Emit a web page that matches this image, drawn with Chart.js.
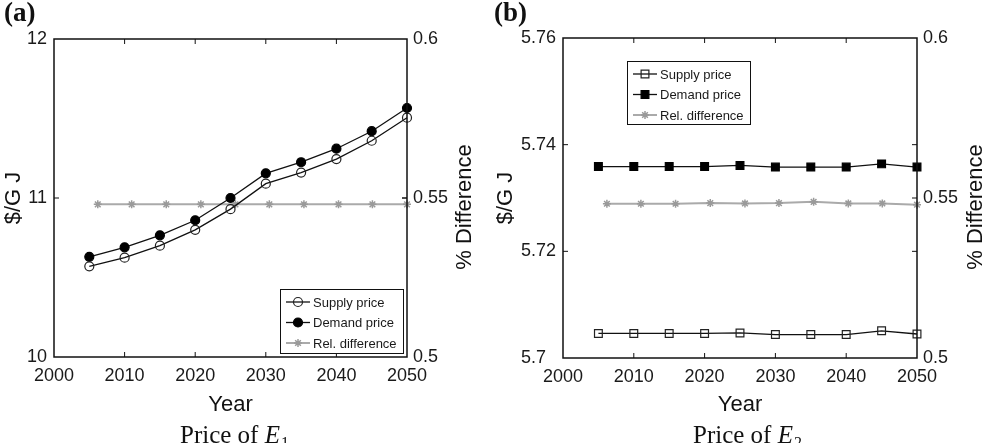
<!DOCTYPE html>
<html>
<head>
<meta charset="utf-8">
<script src="https://cdn.jsdelivr.net/npm/chart.js@4.4.1/dist/chart.umd.min.js"></script>
<style>
  body { margin: 0; background: #fff; }
  #wrap { position: relative; width: 985px; height: 443px; overflow: hidden; }
  canvas { position: absolute; top: 0; }
</style>
</head>
<body>
<div id="wrap">
  <canvas id="panelA" width="490" height="443" style="left:0"></canvas>
  <canvas id="panelB" width="495" height="443" style="left:490px"></canvas>
</div>
<script>
// years of the price series, and the (slightly shifted) x of the rel. difference stars
const years = [2005, 2010, 2015, 2020, 2025, 2030, 2035, 2040, 2045, 2050];
const relYears = [2006.2, 2011.0, 2015.9, 2020.8, 2025.7, 2030.5, 2035.4, 2040.3, 2045.1, 2050];

// panel (a) - price of E1
const supplyE1 = [10.57, 10.625, 10.70, 10.80, 10.93, 11.09, 11.16, 11.245, 11.36, 11.505];
const demandE1 = [10.63, 10.69, 10.765, 10.86, 11.0, 11.155, 11.225, 11.31, 11.42, 11.566];
const relDiffE1 = [0.548, 0.548, 0.548, 0.548, 0.548, 0.548, 0.548, 0.548, 0.548, 0.548];

// panel (b) - price of E2
const supplyE2 = [5.7046, 5.7046, 5.7046, 5.7046, 5.7047, 5.7044, 5.7044, 5.7044, 5.7051, 5.7045];
const demandE2 = [5.7359, 5.7359, 5.7359, 5.7359, 5.7361, 5.7358, 5.7358, 5.7358, 5.7364, 5.7358];
const relDiffE2 = [0.5482, 0.5482, 0.5482, 0.5484, 0.5483, 0.5484, 0.5488, 0.5483, 0.5483, 0.5479];

// tick labels
const yearTicks = [2000, 2010, 2020, 2030, 2040, 2050];
const priceTicksE1 = [10, 11, 12];
const priceTicksE2 = [5.70, 5.72, 5.74, 5.76];
const diffTicks = [0.5, 0.55, 0.6];

Chart.defaults.font.family = '"Liberation Sans", Arial, sans-serif';
Chart.defaults.color = '#1a1a1a';

const fmt = v => String(+v.toFixed(3));

// box round the axes + inward ticks, matlab style
const frameTicks = {
  id: 'frameTicks',
  afterDatasetsDraw(chart) {
    const { ctx, chartArea: a, scales } = chart;
    const t = 5;
    ctx.save();
    ctx.strokeStyle = '#111';
    ctx.lineWidth = 1;
    ctx.beginPath();
    scales.x.ticks.forEach(tk => {
      const px = scales.x.getPixelForValue(tk.value);
      if (px <= a.left + 1 || px >= a.right - 1) return;
      ctx.moveTo(px, a.bottom); ctx.lineTo(px, a.bottom - t);
      ctx.moveTo(px, a.top); ctx.lineTo(px, a.top + t);
    });
    scales.y.ticks.forEach(tk => {
      const py = scales.y.getPixelForValue(tk.value);
      if (py <= a.top + 1 || py >= a.bottom - 1) return;
      ctx.moveTo(a.left, py); ctx.lineTo(a.left + t, py);
      ctx.moveTo(a.right, py); ctx.lineTo(a.right - t, py);
    });
    scales.y2.ticks.forEach(tk => {
      const py = scales.y2.getPixelForValue(tk.value);
      if (py <= a.top + 1 || py >= a.bottom - 1) return;
      ctx.moveTo(a.right, py); ctx.lineTo(a.right - t, py);
    });
    ctx.stroke();
    ctx.lineWidth = 1.5;
    ctx.strokeRect(a.left, a.top, a.right - a.left, a.bottom - a.top);
    ctx.restore();
  }
};

// panel letter, caption, right axis title and the legend
const deco = {
  id: 'deco',
  afterDraw(chart, args, o) {
    const ctx = chart.ctx;
    ctx.save();
    ctx.fillStyle = '#111';
    ctx.textBaseline = 'alphabetic';
    ctx.font = 'bold 27px "Liberation Serif"';
    ctx.fillText(o.letter, 4, 21);

    ctx.font = '25px "Liberation Serif"';
    ctx.fillText('Price of ', o.capX, 443);
    let w = ctx.measureText('Price of ').width;
    ctx.font = 'italic 25px "Liberation Serif"';
    ctx.fillText('E', o.capX + w, 443);
    w += ctx.measureText('E').width;
    ctx.font = '16px "Liberation Serif"';
    ctx.fillText(o.sub, o.capX + w + 1, 448);

    ctx.save();
    ctx.translate(o.rtX, o.rtY);
    ctx.rotate(-Math.PI / 2);
    ctx.textAlign = 'center';
    ctx.textBaseline = 'middle';
    ctx.font = '22px "Liberation Sans"';
    ctx.fillText('% Difference', 0, 0);
    ctx.restore();

    // legend
    const L = o.legend;
    ctx.fillStyle = '#fff';
    ctx.fillRect(L.x, L.y, L.w, L.h);
    ctx.strokeStyle = '#111';
    ctx.lineWidth = 1;
    ctx.strokeRect(L.x + 0.5, L.y + 0.5, L.w, L.h);
    chart.data.datasets.forEach((ds, i) => {
      const ry = L.y + 13 + i * 20.5;
      ctx.strokeStyle = ds.borderColor;
      ctx.lineWidth = ds.borderWidth;
      ctx.beginPath();
      ctx.moveTo(L.x + 6, ry); ctx.lineTo(L.x + 30, ry);
      ctx.stroke();
      ctx.fillStyle = ds.pointBackgroundColor;
      ctx.strokeStyle = ds.pointBorderColor;
      ctx.lineWidth = ds.pointBorderWidth;
      Chart.helpers.drawPoint(ctx, { pointStyle: ds.pointStyle, radius: ds.pointRadius, borderWidth: ds.pointBorderWidth, rotation: 0 }, L.x + 18, ry);
      ctx.fillStyle = '#1a1a1a';
      ctx.font = '13px "Liberation Sans"';
      ctx.textBaseline = 'middle';
      ctx.fillText(ds.label, L.x + 33, ry + 1);
    });
    ctx.restore();
  }
};

function panel(id, o) {
  const pts = (xs, ys) => xs.map((x, i) => ({ x, y: ys[i] }));
  return new Chart(document.getElementById(id), {
    type: 'line',
    data: {
      datasets: [
        { label: 'Supply price', data: pts(years, o.supply), yAxisID: 'y',
          borderColor: '#111', borderWidth: 1.3, tension: 0, clip: false,
          pointStyle: o.marker, pointRadius: o.r,
          pointBackgroundColor: 'rgba(255,255,255,0)', pointBorderColor: '#222', pointBorderWidth: 1.2 },
        { label: 'Demand price', data: pts(years, o.demand), yAxisID: 'y',
          borderColor: '#111', borderWidth: 1.3, tension: 0, clip: false,
          pointStyle: o.marker, pointRadius: o.r,
          pointBackgroundColor: '#000', pointBorderColor: '#000', pointBorderWidth: 1.2 },
        { label: 'Rel. difference', data: pts(relYears, o.rel), yAxisID: 'y2',
          borderColor: '#aaaaaa', borderWidth: 2, tension: 0, clip: false,
          pointStyle: 'star', pointRadius: 4,
          pointBackgroundColor: '#9a9a9a', pointBorderColor: '#9a9a9a', pointBorderWidth: 1.5 }
      ]
    },
    options: {
      responsive: false,
      animation: false,
      devicePixelRatio: 1,
      layout: { padding: { top: o.top, left: 0, right: 0, bottom: 0 } },
      plugins: {
        legend: { display: false },
        tooltip: { enabled: false },
        deco: o.deco
      },
      scales: {
        x: {
          type: 'linear', min: 2000, max: 2050,
          afterBuildTicks: s => { s.ticks = yearTicks.map(v => ({ value: v })); },
          afterFit: s => { s.height = o.xh; },
          grid: { display: false, drawTicks: false }, border: { display: false },
          ticks: { font: { size: 18 }, padding: 8, maxRotation: 0, callback: v => String(v) },
          title: { display: true, text: 'Year', color: '#111', font: { size: 22 }, padding: { top: 0, bottom: 25 } }
        },
        y: {
          position: 'left', min: o.yMin, max: o.yMax,
          afterBuildTicks: s => { s.ticks = o.yTicks.map(v => ({ value: v })); },
          afterFit: s => { s.width = o.lw; },
          grid: { display: false, drawTicks: false }, border: { display: false },
          ticks: { font: { size: 18 }, padding: 7, callback: o.yFmt },
          title: { display: true, text: '$/G J', color: '#111', font: { size: 22 }, padding: { top: o.ltPad, bottom: 0 } }
        },
        y2: {
          position: 'right', min: 0.5, max: 0.6,
          afterBuildTicks: s => { s.ticks = diffTicks.map(v => ({ value: v })); },
          afterFit: s => { s.width = o.rw; },
          grid: { display: false, drawTicks: false }, border: { display: false },
          ticks: { font: { size: 18 }, padding: 6, callback: fmt }
        }
      }
    },
    plugins: [frameTicks, deco]
  });
}

panel('panelA', {
  supply: supplyE1, demand: demandE1, rel: relDiffE1,
  marker: 'circle', r: 4.5,
  yMin: 10, yMax: 12, yTicks: priceTicksE1, yFmt: fmt,
  top: 39, xh: 86, lw: 54, rw: 83, ltPad: 1,
  deco: { letter: '(a)', capX: 180, sub: '1', rtX: 465, rtY: 207,
          legend: { x: 280, y: 289, w: 123, h: 64 } }
});

panel('panelB', {
  supply: supplyE2, demand: demandE2, rel: relDiffE2,
  marker: 'rect', r: 5.5,
  yMin: 5.70, yMax: 5.76, yTicks: priceTicksE2,
  yFmt: v => { const s = fmt(v); return s.length < 4 ? s + '  ' : s; },
  top: 38, xh: 85, lw: 73, rw: 68, ltPad: 3,
  deco: { letter: '(b)', capX: 203, sub: '2', rtX: 486, rtY: 207,
          legend: { x: 137, y: 61, w: 123, h: 63 } }
});
</script>
</body>
</html>
